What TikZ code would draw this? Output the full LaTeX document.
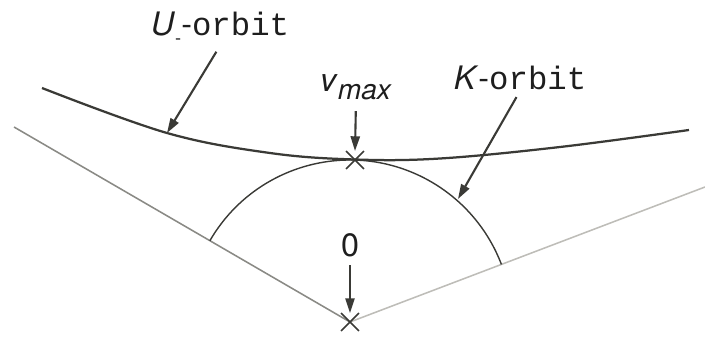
\documentclass[tikz,border=0pt]{standalone}
\usepackage{fontspec}
\setmainfont{TeX Gyre Heros}
\setmonofont{Liberation Mono}
\usepackage{tikz}
\usetikzlibrary{positioning, arrows.meta, shapes.misc}
\definecolor{OrbitDark}{RGB}{58,58,54}
\definecolor{ConeLeft}{RGB}{138,138,133}
\definecolor{ConeRight}{RGB}{190,189,184}
\definecolor{LabelInk}{RGB}{30,30,30}

\begin{document}
\begin{tikzpicture}[x=0.025cm, y=0.025cm,
    lbl/.style={text=LabelInk, font=\fontsize{23}{25}\selectfont, inner sep=1pt, anchor=base},
    pointer/.style={-{Triangle[length=10.5pt, width=6.5pt]}, line width=1.5pt, OrbitDark},
    xmark/.style={cross out, draw=OrbitDark, line width=1.2pt, minimum size=11.5pt, inner sep=0pt}]
  \useasboundingbox (0,0) rectangle (705,337);
  % cone
  \coordinate (o) at (350,15);
  \coordinate (lend) at (14,210);
  \coordinate (rend) at (705,150);
  \draw[ConeLeft, line width=1.1pt] (lend) -- (o);
  \draw[ConeRight, line width=1.1pt] (o) -- (rend);
  % K-orbit
  \draw[OrbitDark, line width=1pt] (o) ++(149.9:162) arc[start angle=149.9, end angle=20.8, radius=162];
  % U_-orbit
  \draw[OrbitDark, line width=1.6pt] plot[smooth, tension=0.6] coordinates
    {(42,249) (167,204) (270,184) (355,177.5) (440,178.5) (560,190) (689,207)};
  \coordinate (upt) at (167,204);
  \coordinate (kpt) at (458,138);
  \node[xmark] (vmax) at (355,177) {};
  \node[xmark] (origin) at (o) {};
  % labels
  \node[lbl] (ulabel) at (220,302) {\textit{U}\raisebox{-0.28em}{\fontsize{13}{13}\selectfont -}-\texttt{orbit}};
  \node[lbl] (klabel) at (520,248) {\textit{K}-\texttt{orbit}};
  \node[lbl] (vlabel) at (356,245) {\textit{v}\raisebox{-0.22em}{\fontsize{20}{20}\selectfont\textit{max}}};
  \node[lbl] (zlabel) at (350,81) {0};
  \draw[pointer, shorten <=5pt] (ulabel.south) -- (upt);
  \draw[pointer, shorten <=5pt] (klabel.south) -- (kpt);
  \draw[pointer, shorten <=7pt] (vlabel.south) -- (vmax.north);
  \draw[pointer, shorten <=5pt] (zlabel.south) -- (origin.north);
\end{tikzpicture}
\end{document}
